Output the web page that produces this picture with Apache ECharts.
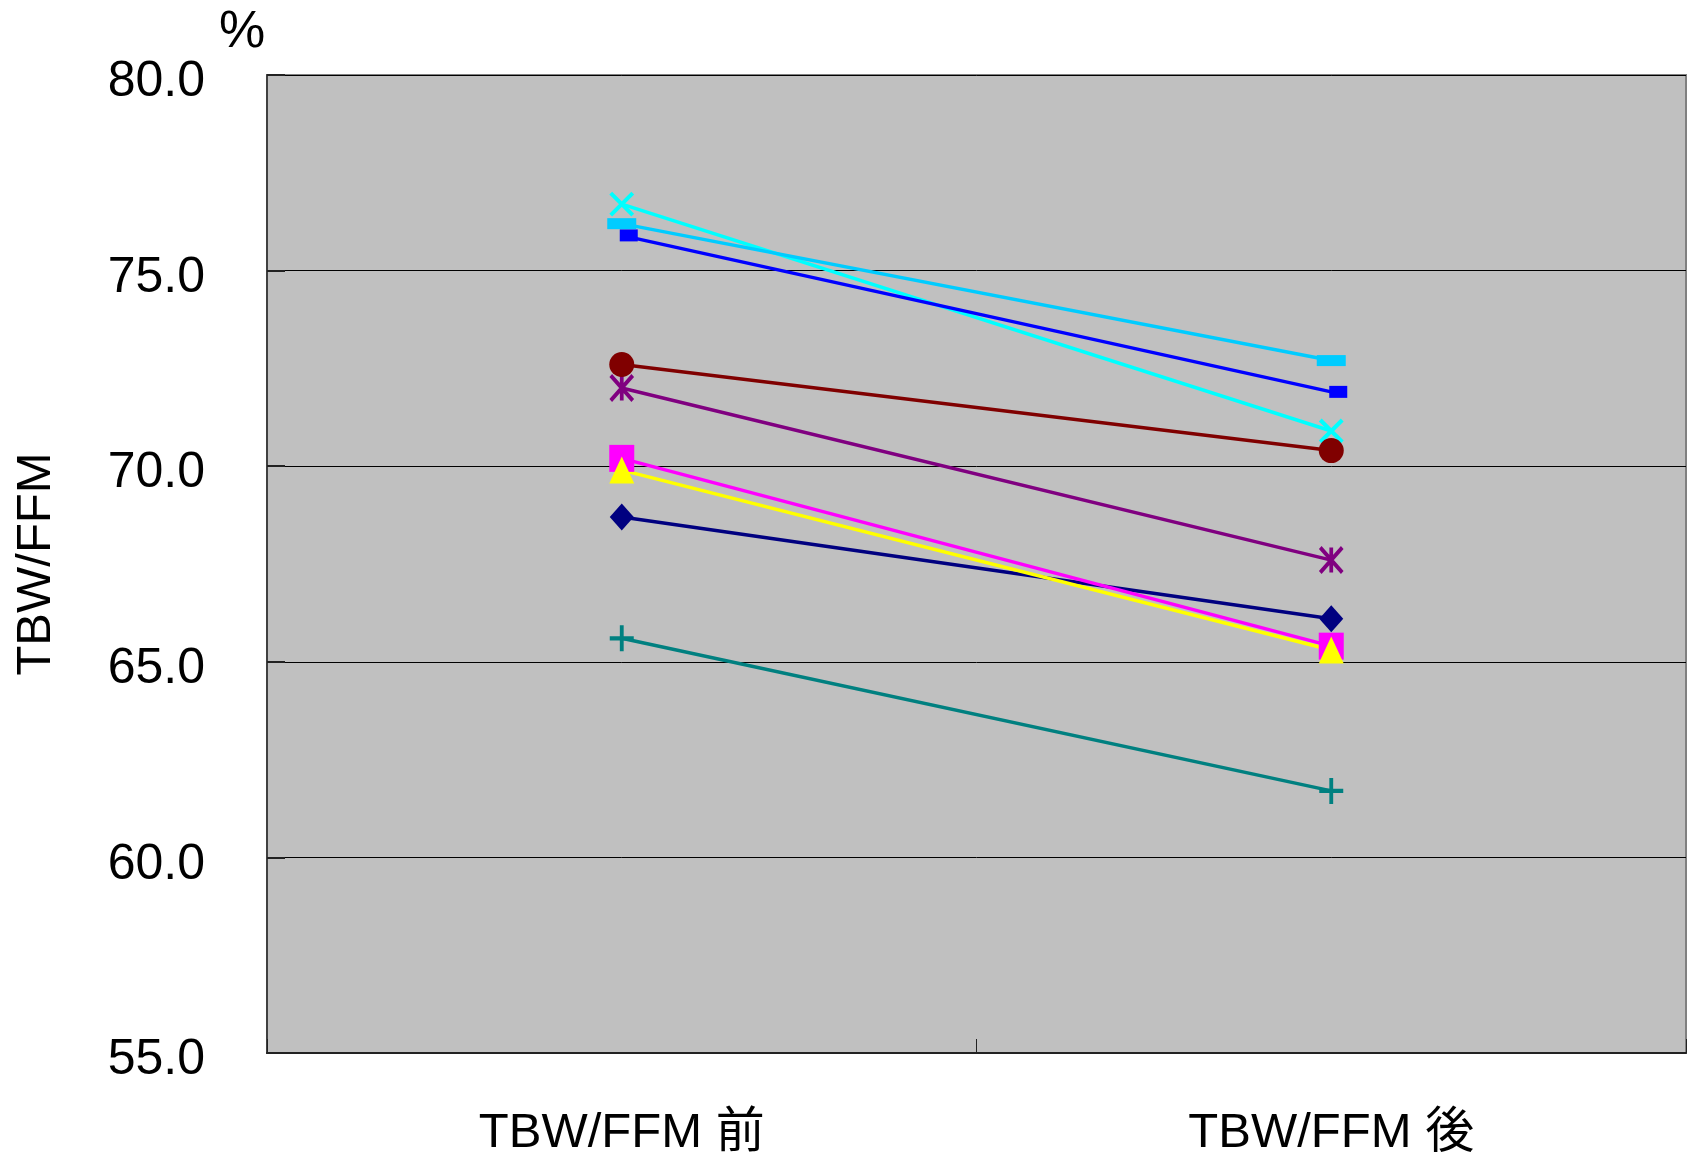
<!DOCTYPE html>
<html>
<head>
<meta charset="utf-8">
<style>
  html, body { margin: 0; padding: 0; background: #ffffff; }
  #chart { width: 1691px; height: 1156px; }
</style>
<script src="https://cdn.jsdelivr.net/npm/echarts@6/dist/echarts.min.js"></script>
</head>
<body>
<div id="chart"></div>
<script>
// Categories on the x axis
const categories = ['TBW/FFM 前', 'TBW/FFM 後'];

// Y axis range and tick spacing
const yMin = 55;
const yMax = 80;
const yStep = 5;

// One pair of values (before, after) per subject
const subject1 = [68.7, 66.1];
const subject2 = [70.2, 65.4];
const subject3 = [69.9, 65.3];
const subject4 = [76.7, 70.9];
const subject5 = [72.0, 67.6];
const subject6 = [72.6, 70.4];
const subject7 = [65.6, 61.7];
const subject8 = [75.9, 71.9];
const subject9 = [76.2, 72.7];

const FONT = '"Liberation Sans", Arial, "Noto Sans CJK JP", sans-serif';

// Stroked marker outlines
const X_PATH = 'path://M0 0L100 100M100 0L0 100';
const STAR_PATH = 'path://M0 0L100 100M100 0L0 100M50 0L50 100';
const PLUS_PATH = 'path://M0 50L100 50M50 0L50 100';

function filled(name, data, color, symbol, size, offset) {
  return {
    name: name, type: 'line', data: data,
    symbol: symbol, symbolSize: size, symbolOffset: offset || [0, 0],
    lineStyle: { color: color, width: 3.5 },
    itemStyle: { color: color, borderWidth: 0 },
    emphasis: { disabled: true },
    animation: false
  };
}
function stroked(name, data, color, symbol, size) {
  return {
    name: name, type: 'line', data: data,
    symbol: symbol, symbolSize: size,
    lineStyle: { color: color, width: 3.5 },
    itemStyle: { color: 'none', borderColor: color, borderWidth: 4 },
    emphasis: { disabled: true },
    animation: false
  };
}

const chart = echarts.init(document.getElementById('chart'));
chart.setOption({
  backgroundColor: '#ffffff',
  animation: false,
  grid: {
    left: 267, right: 5, top: 75, bottom: 103,
    outerBoundsMode: 'none', containLabel: false,
    show: true, backgroundColor: '#c0c0c0',
    borderColor: '#808080', borderWidth: 2
  },
  graphic: [{
    type: 'text', left: 219, top: 7,
    style: { text: '%', font: '52px ' + FONT, fill: '#000' }
  }],
  xAxis: {
    type: 'category', data: categories, boundaryGap: true,
    axisLine: { show: true, lineStyle: { color: '#222', width: 2 } },
    axisTick: { show: true, inside: true, length: 14, lineStyle: { color: '#222', width: 1 } },
    axisLabel: { fontSize: 49, fontFamily: FONT, color: '#000', margin: 56 },
    splitLine: { show: false }
  },
  yAxis: {
    type: 'value', min: yMin, max: yMax, interval: yStep,
    name: 'TBW/FFM', nameLocation: 'middle', nameRotate: 90, nameGap: 206,
    nameTextStyle: { fontSize: 49, fontFamily: FONT, color: '#000' },
    axisLine: { show: true, lineStyle: { color: '#404040', width: 2 } },
    axisTick: { show: true, inside: true, length: 18, lineStyle: { color: '#222', width: 2 } },
    axisLabel: {
      color: '#000', margin: 62,
      formatter: v => '{t|' + v.toFixed(1) + '}',
      rich: { t: { fontSize: 50, fontFamily: FONT, color: '#000', padding: [15, 0, 0, 0] } }
    },
    splitLine: { show: true, lineStyle: { color: '#000', width: 1 } }
  },
  series: [
    filled('1', subject1, '#000080', 'diamond', [24, 27]),
    filled('2', subject2, '#ff00ff', 'rect', [25, 27]),
    filled('3', subject3, '#ffff00', 'triangle', [25, 27]),
    stroked('4', subject4, '#00ffff', X_PATH, [22, 22]),
    stroked('5', subject5, '#800080', STAR_PATH, [22, 25]),
    filled('6', subject6, '#800000', 'circle', 25),
    stroked('7', subject7, '#008080', PLUS_PATH, [24, 26]),
    filled('8', subject8, '#0000ff', 'rect', [18, 12], [7, 0]),
    filled('9', subject9, '#00ccff', 'rect', [29, 11])
  ]
});
</script>
</body>
</html>
